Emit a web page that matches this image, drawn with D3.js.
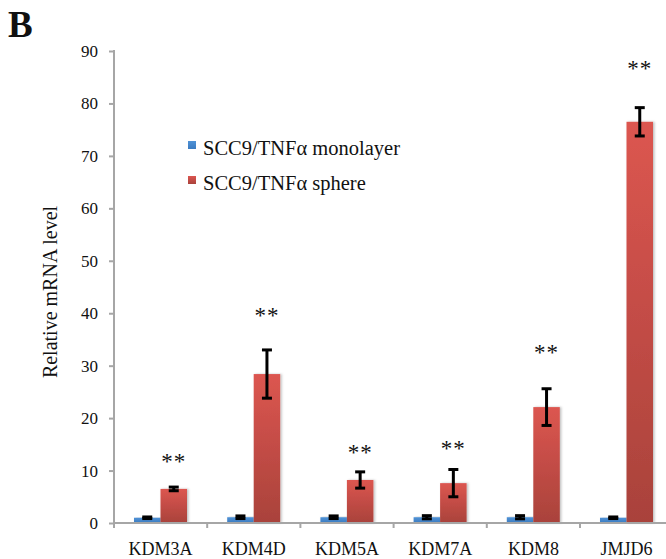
<!DOCTYPE html>
<html>
<head>
<meta charset="utf-8">
<script src="https://cdn.jsdelivr.net/npm/d3@7"></script>
<style>
  body { margin: 0; background: #fff; }
  svg text { font-family: "Liberation Serif", "Times New Roman", serif; fill: #111; }
</style>
</head>
<body>
<svg id="chart" width="666" height="559"></svg>
<script>
// categories and series
const genes = ["KDM3A", "KDM4D", "KDM5A", "KDM7A", "KDM8", "JMJD6"];
const seriesNames = ["SCC9/TNFα monolayer", "SCC9/TNFα sphere"];

// values
const monolayer = [1.0, 1.1, 1.1, 1.1, 1.1, 1.0];
const monolayerErr = [0.15, 0.25, 0.25, 0.3, 0.3, 0.15];
const sphere = [6.5, 28.4, 8.2, 7.6, 22.1, 76.5];
const sphereErr = [0.35, 4.6, 1.55, 2.6, 3.5, 2.7];
// height of the "**" marks, in axis units
const starLevel = [12.8, 40.6, 14.5, 15.3, 33.6, 87.7];

const yTicks = [0, 10, 20, 30, 40, 50, 60, 70, 80, 90];

const colors = {
    blue: ["#4f92d6", "#3b7bc0"],
    red: ["#dc5650", "#a9423b"]
};

const svg = d3.select("#chart");

/** Scales */
let x0 = d3.scaleBand()
    .domain(genes)
    .range([114, 114 + 6 * 93.2])
    .padding(0);

let x1 = d3.scaleBand()
    .domain(seriesNames)
    .range([20, 73])
    .padding(0);

let y = d3.scaleLinear()
    .domain([0, 90])
    .range([523, 51]);

// gradients
let defs = svg.append("defs");
[["gradBlue", colors.blue], ["gradRed", colors.red]].forEach(function (g) {
    let lg = defs.append("linearGradient")
        .attr("id", g[0])
        .attr("x1", 0).attr("y1", 0)
        .attr("x2", 0).attr("y2", 1);
    lg.append("stop").attr("offset", "0%").attr("stop-color", g[1][0]);
    lg.append("stop").attr("offset", "100%").attr("stop-color", g[1][1]);
});
defs.append("filter")
    .attr("id", "shadow")
    .attr("x", "-20%").attr("y", "-5%")
    .attr("width", "140%").attr("height", "110%")
    .append("feDropShadow")
    .attr("dx", 1.5).attr("dy", 0)
    .attr("stdDeviation", 1.2)
    .attr("flood-color", "#000")
    .attr("flood-opacity", 0.25);

// panel letter
svg.append("text")
    .attr("x", 8)
    .attr("y", 37)
    .style("font-size", "37px")
    .style("font-weight", "bold")
    .text("B");

// y axis
let yAxis = d3.axisLeft(y)
    .tickValues(yTicks)
    .tickSize(5)
    .tickPadding(11)
    .tickFormat(d3.format("d"));

let yg = svg.append("g")
    .attr("transform", "translate(114,0)")
    .call(yAxis);
yg.select(".domain").remove();
yg.append("line")
    .attr("x1", 0).attr("x2", 0)
    .attr("y1", y(90) - 1).attr("y2", y(0) + 4)
    .attr("stroke", "#a6a6a6")
    .attr("stroke-width", 2);
yg.selectAll(".tick line")
    .attr("stroke", "#a6a6a6")
    .attr("stroke-width", 2);
yg.selectAll(".tick text")
    .style("font-size", "17px")
    .style("font-family", "Liberation Serif, serif");

// y label
svg.append("text")
    .attr("transform", "translate(57," + 292 + ") rotate(-90)")
    .attr("text-anchor", "middle")
    .style("font-size", "20px")
    .text("Relative mRNA level");

// bars
let groups = svg.append("g")
    .selectAll("g")
    .data(genes)
    .enter()
    .append("g")
    .attr("transform", function (d) {
        return "translate(" + x0(d) + ",0)";
    });

let barData = function (d, i) {
    return [
        {name: seriesNames[0], value: monolayer[i], err: monolayerErr[i], fill: "url(#gradBlue)"},
        {name: seriesNames[1], value: sphere[i], err: sphereErr[i], fill: "url(#gradRed)"}
    ];
};

groups.selectAll("rect")
    .data(barData)
    .enter()
    .append("rect")
    .attr("x", d => x1(d.name))
    .attr("width", x1.bandwidth())
    .attr("y", d => y(d.value))
    .attr("height", d => y(0) - y(d.value))
    .attr("fill", d => d.fill)
    .attr("filter", "url(#shadow)");

// error bars
let eb = groups.selectAll("g.err")
    .data(barData)
    .enter()
    .append("g")
    .attr("class", "err")
    .attr("stroke", "#000")
    .attr("stroke-width", 3);

eb.append("line")
    .attr("x1", d => x1(d.name) + x1.bandwidth() / 2)
    .attr("x2", d => x1(d.name) + x1.bandwidth() / 2)
    .attr("y1", d => y(d.value + d.err))
    .attr("y2", d => y(d.value - d.err));
eb.selectAll("line.cap")
    .data(d => [d.value + d.err, d.value - d.err].map(v => ({name: d.name, v: v})))
    .enter()
    .append("line")
    .attr("class", "cap")
    .attr("x1", d => x1(d.name) + x1.bandwidth() / 2 - 5)
    .attr("x2", d => x1(d.name) + x1.bandwidth() / 2 + 5)
    .attr("y1", d => y(d.v))
    .attr("y2", d => y(d.v));

// significance stars
groups.append("text")
    .attr("x", x1(seriesNames[1]) + x1.bandwidth() / 2)
    .attr("y", (d, i) => y(starLevel[i]) + 13)
    .attr("text-anchor", "middle")
    .style("font-size", "23px")
    .style("letter-spacing", "1px")
    .text("**");

// x axis
let xg = svg.append("g");
xg.append("line")
    .attr("x1", 113).attr("x2", 666)
    .attr("y1", y(0)).attr("y2", y(0))
    .attr("stroke", "#a6a6a6")
    .attr("stroke-width", 2);
xg.selectAll("line.tick")
    .data(genes)
    .enter()
    .append("line")
    .attr("class", "tick")
    .attr("x1", d => x0(d)).attr("x2", d => x0(d))
    .attr("y1", y(0)).attr("y2", y(0) + 5)
    .attr("stroke", "#a6a6a6")
    .attr("stroke-width", 2);
xg.selectAll("text")
    .data(genes)
    .enter()
    .append("text")
    .attr("x", d => x0(d) + x0.bandwidth() / 2)
    .attr("y", 555)
    .attr("text-anchor", "middle")
    .style("font-size", "18px")
    .text(d => d);

// legend
let legend = svg.append("g")
    .selectAll("g")
    .data(seriesNames)
    .enter()
    .append("g")
    .attr("transform", (d, i) => "translate(188," + (141 + i * 35) + ")");
legend.append("rect")
    .attr("width", 8)
    .attr("height", 8)
    .attr("fill", (d, i) => i === 0 ? "url(#gradBlue)" : "url(#gradRed)");
legend.append("text")
    .attr("x", 15)
    .attr("y", 14)
    .style("font-size", "20.5px")
    .text(d => d);
</script>
</body>
</html>
